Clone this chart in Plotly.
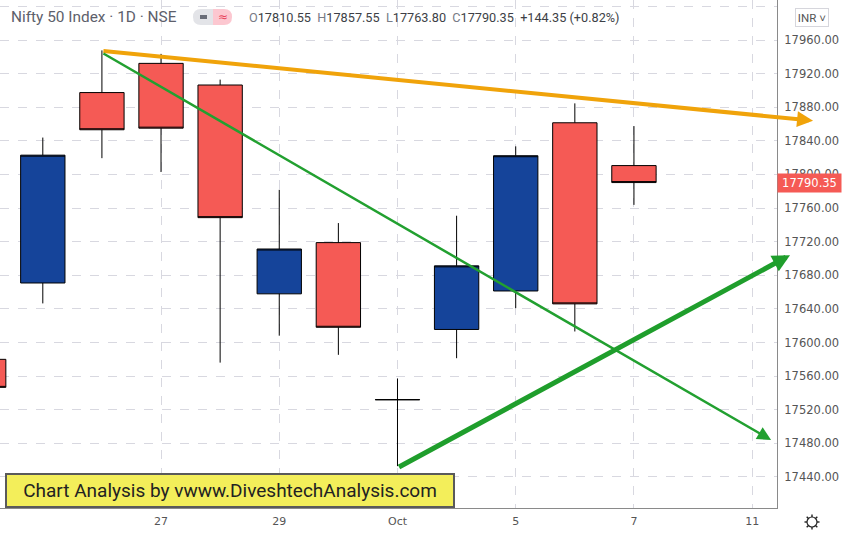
import math
import plotly.graph_objects as go

# daily candles, x = trading-day index (0 = Sep 22)
days = [0, 1, 2, 3, 4, 5, 6, 7, 8, 9, 10, 11]
opens = [17580.0, 17670.85, 17897.45, 17932.2, 17906.45, 17657.95, 17718.9, 17531.9, 17615.55, 17661.35, 17861.5, 17810.55]
highs = [17610.0, 17843.9, 17947.65, 17943.5, 17912.85, 17781.75, 17742.15, 17557.15, 17750.9, 17833.45, 17884.6, 17857.55]
lows = [17486.0, 17646.55, 17819.4, 17802.9, 17576.1, 17608.15, 17585.35, 17452.9, 17581.35, 17640.9, 17613.15, 17763.8]
closes = [17546.65, 17822.95, 17853.2, 17855.1, 17748.6, 17711.3, 17618.15, 17532.05, 17691.25, 17822.3, 17646.0, 17790.35]

tick_days = [3, 5, 7, 9, 11, 13]
tick_labels = ["27", "29", "Oct", "5", "7", "11"]

# drawn trend lines: [start_day, start_price, end_day, end_price]
orange_line = [2, 17947, 14.03, 17864]
green_down = [2, 17945, 13.32, 17484]
green_up = [7, 17451, 13.64, 17704]

last_price = 17790.35

W, H = 842, 536
PW, PH = 777, 508  # plot area in px


def px(x):
    return x / PW


def py(y):
    return 1 - y / PH


fig = go.Figure()

fig.add_trace(go.Candlestick(
    x=days, open=opens, high=highs, low=lows, close=closes,
    increasing=dict(fillcolor="#15449a", line=dict(color="#000000", width=1)),
    decreasing=dict(fillcolor="#f55a55", line=dict(color="#000000", width=1)),
    whiskerwidth=0, hoverinfo="skip", showlegend=False,
))

annotations = []
for pts, color, w, size in [(orange_line, "#f0a30a", 4, 0.8),
                            (green_down, "#22a030", 2.5, 1.1),
                            (green_up, "#1f9e2c", 5, 0.7)]:
    annotations.append(dict(
        x=pts[2], y=pts[3], ax=pts[0], ay=pts[1],
        xref="x", yref="y", axref="x", ayref="y",
        text="", showarrow=True, arrowhead=2, arrowsize=size,
        arrowwidth=w, arrowcolor=color,
    ))

# header
annotations.append(dict(xref="paper", yref="paper", x=px(9), y=py(17),
                        xanchor="left", yanchor="middle", showarrow=False,
                        text="Nifty 50 Index · 1D · NSE",
                        font=dict(size=15.4, color="#5d606b")))
ohlc_txt = ("<span style='color:#787b86'>O</span>17810.55  "
            "<span style='color:#787b86'>H</span>17857.55  "
            "<span style='color:#787b86'>L</span>17763.80  "
            "<span style='color:#787b86'>C</span>17790.35  +144.35 (+0.82%)")
annotations.append(dict(xref="paper", yref="paper", x=px(247), y=py(17),
                        xanchor="left", yanchor="middle", showarrow=False,
                        text=ohlc_txt, font=dict(size=12.7, color="#3d3f46")))
annotations.append(dict(xref="paper", yref="paper", x=px(222.5), y=py(17),
                        xanchor="center", yanchor="middle", showarrow=False,
                        text="≈", font=dict(family="DejaVu Sans", size=12, color="#e8425a")))

# last price tag
annotations.append(dict(xref="paper", yref="y", x=1, y=last_price,
                        xanchor="left", yanchor="middle", showarrow=False,
                        text="17790.35", bgcolor="#f55a55", borderpad=2,
                        width=59, align="center",
                        font=dict(family="DejaVu Sans", size=11.5, color="#ffffff")))

# currency button
annotations.append(dict(xref="paper", yref="paper", x=px(811.5), y=py(17.5),
                        xanchor="center", yanchor="middle", showarrow=False,
                        text="INR ˅", bgcolor="#ffffff", width=28, height=13,
                        bordercolor="#d6d6dc", borderwidth=1, borderpad=2,
                        font=dict(size=11.5, color="#555555")))

# watermark label
annotations.append(dict(xref="paper", yref="paper", x=px(5), y=py(490.5),
                        xanchor="left", yanchor="middle", showarrow=False,
                        text="Chart Analysis by vwww.DiveshtechAnalysis.com",
                        bgcolor="#f3ee5a", bordercolor="#5a5a5a", borderwidth=2,
                        width=444, height=29, align="center",
                        font=dict(size=19, color="#222222")))

shapes = [
    dict(type="path", xref="paper", yref="paper", layer="below",
         path=f"M {px(201)},{py(9)} L {px(213)},{py(9)} L {px(213)},{py(25)} L {px(201)},{py(25)} "
              f"Q {px(193)},{py(25)} {px(193)},{py(17)} Q {px(193)},{py(9)} {px(201)},{py(9)} Z",
         fillcolor="#e3e4e8", line=dict(width=0)),
    dict(type="path", xref="paper", yref="paper", layer="below",
         path=f"M {px(213)},{py(9)} L {px(224)},{py(9)} Q {px(232)},{py(9)} {px(232)},{py(17)} "
              f"Q {px(232)},{py(25)} {px(224)},{py(25)} L {px(213)},{py(25)} Z",
         fillcolor="#fcc7d0", line=dict(width=0)),
    dict(type="line", xref="paper", yref="paper", layer="above",
         x0=px(200), x1=px(207), y0=py(17), y1=py(17),
         line=dict(color="#6a6d78", width=4)),
]

# settings gear icon below the price axis
gx, gy = 812, 522
shapes.append(dict(type="circle", xref="paper", yref="paper",
                   x0=px(gx - 5), x1=px(gx + 5), y0=py(gy + 5), y1=py(gy - 5),
                   line=dict(color="#222222", width=1.2)))
for k in range(8):
    a = k * math.pi / 4
    shapes.append(dict(type="line", xref="paper", yref="paper",
                       x0=px(gx + 5 * math.cos(a)), y0=py(gy + 5 * math.sin(a)),
                       x1=px(gx + 7.5 * math.cos(a)), y1=py(gy + 7.5 * math.sin(a)),
                       line=dict(color="#222222", width=1.4)))

fig.update_layout(
    width=W, height=H,
    margin=dict(l=0, r=W - PW, t=0, b=H - PH),
    paper_bgcolor="#ffffff", plot_bgcolor="#ffffff",
    font=dict(family="Roboto, Liberation Sans, sans-serif"),
    boxgap=0.25, boxgroupgap=0,
    showlegend=False, hovermode=False,
    annotations=annotations, shapes=shapes,
    xaxis=dict(
        range=[0.276, 13.42], rangeslider=dict(visible=False),
        tickvals=tick_days, ticktext=tick_labels,
        showgrid=True, gridcolor="#d8d8e0", griddash="dash", gridwidth=1,
        showline=True, linecolor="#8a8a8a", linewidth=1,
        ticks="outside", ticklen=3, tickcolor="rgba(0,0,0,0)",
        tickfont=dict(family="DejaVu Sans", size=11, color="#555555"), zeroline=False,
    ),
    yaxis=dict(
        range=[17403.1, 18007.6], side="right",
        tickvals=list(range(17440, 18001, 40)), tickformat=".2f",
        showgrid=True, gridcolor="#d8d8e0", griddash="dash", gridwidth=1,
        showline=True, linecolor="#8a8a8a", linewidth=1,
        ticks="outside", ticklen=4, tickcolor="rgba(0,0,0,0)",
        tickfont=dict(family="DejaVu Sans", size=11.5, color="#555555"), zeroline=False,
    ),
)

fig.write_html("out.html", config={"displayModeBar": False},
               post_script="document.body.style.margin='0';")
